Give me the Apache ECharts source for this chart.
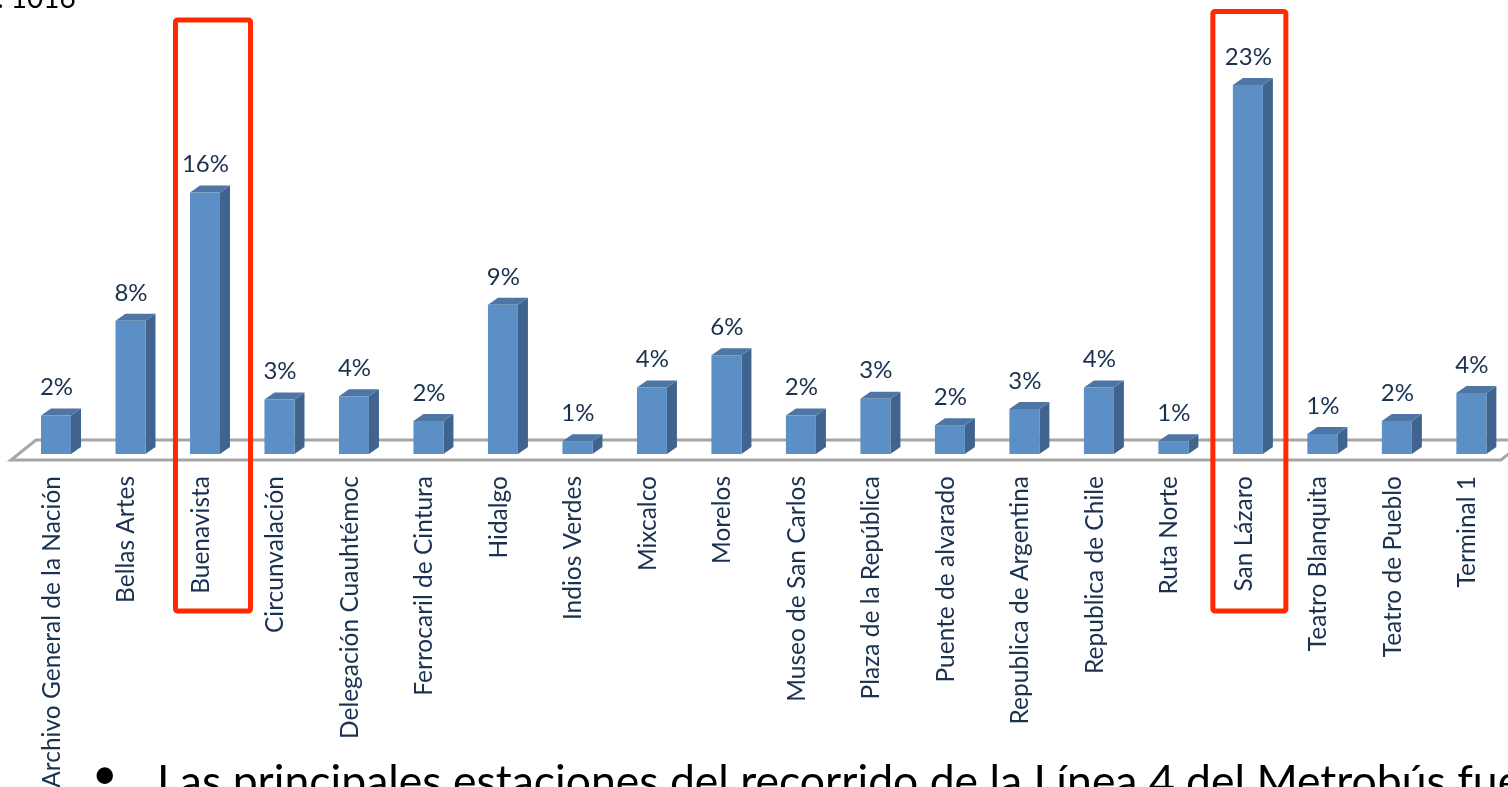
<!DOCTYPE html>
<html>
<head>
<meta charset="utf-8">
<style>
  html, body { margin: 0; padding: 0; background: #fff; overflow: hidden; }
  #chart { width: 1508px; height: 787px; }
</style>
</head>
<body>
<div id="chart"></div>
<script src="https://cdn.jsdelivr.net/npm/echarts@6/dist/echarts.min.js"></script>
<script>
const categories = [
  'Archivo General de la Nación', 'Bellas Artes', 'Buenavista', 'Circunvalación',
  'Delegación Cuauhtémoc', 'Ferrocaril de Cintura', 'Hidalgo', 'Indios Verdes',
  'Mixcalco', 'Morelos', 'Museo de San Carlos', 'Plaza de la República',
  'Puente de alvarado', 'Republica de Argentina', 'Republica de Chile', 'Ruta Norte',
  'San Lázaro', 'Teatro Blanquita', 'Teatro de Pueblo', 'Terminal 1',
]
const values = [2.4, 8.3, 16.3, 3.4, 3.6, 2.05, 9.3, 0.8, 4.15, 6.15, 2.4, 3.45, 1.8, 2.8, 4.15, 0.8, 23, 1.25, 2.05, 3.8]
const highlighted = ['Buenavista', 'San Lázaro']

const textColor = '#1b3150'
const fontFamily = 'Lato'
const barWidth = 30
const depthX = 10
const depthY = 7

const chart = echarts.init(document.getElementById('chart'))

function renderBar(params, api) {
  const x = api.coord([api.value(0), 0])[0] - barWidth / 2
  const base = api.coord([api.value(0), 0])[1]
  const top = api.coord([api.value(0), api.value(1)])[1]
  return {
    type: 'group',
    children: [
      {
        type: 'polygon',
        shape: { points: [[x + barWidth, top], [x + barWidth + depthX, top - depthY], [x + barWidth + depthX, base - depthY], [x + barWidth, base]] },
        style: { fill: '#41648f' },
      },
      {
        type: 'polygon',
        shape: { points: [[x, top], [x + depthX, top - depthY], [x + barWidth + depthX, top - depthY], [x + barWidth, top]] },
        style: { fill: '#4e76a4' },
      },
      {
        type: 'rect',
        shape: { x, y: top, width: barWidth, height: base - top },
        style: { fill: '#5b8fc5' },
      },
      {
        type: 'text',
        style: {
          x: x + barWidth / 2 + 0.5,
          y: top - 28,
          text: Math.round(api.value(1)) + '%',
          align: 'center',
          verticalAlign: 'middle',
          fill: textColor,
          font: '24px ' + fontFamily,
        },
      },
    ],
  }
}

const option = {
  animation: false,
  grid: { left: 18.75, right: -0.6, top: 53, bottom: 333, outerBoundsMode: 'none' },
  xAxis: {
    type: 'category',
    data: categories,
    axisLine: { show: false },
    axisTick: { show: false },
    axisLabel: {
      interval: 0,
      rotate: 90,
      margin: 22,
      color: textColor,
      fontFamily,
      fontSize: 24.5,
      // labels sit a little left of the bars
      verticalAlign: 'bottom',
      lineHeight: 8,
    },
  },
  yAxis: { type: 'value', min: 0, max: 25, show: false },
  series: [
    {
      type: 'custom',
      renderItem: renderBar,
      data: values.map((v, i) => [i, v]),
      clip: false,
    },
  ],
  graphic: [
    {
      type: 'polygon',
      z: 0,
      shape: { points: [[11, 460], [1501, 460], [1526, 440], [36, 440]] },
      style: { fill: 'none', stroke: '#a6a6a6', lineWidth: 3 },
    },
    {
      type: 'text',
      left: 92,
      top: 753,
      style: { text: '•', fill: '#000', font: '44px ' + fontFamily },
    },
    {
      type: 'text',
      left: 157,
      top: 760,
      style: { text: 'Las principales estaciones del recorrido de la Línea 4 del Metrobús fueron', fill: '#000', font: '44.5px ' + fontFamily },
    },
    {
      type: 'text',
      left: -3,
      top: -15,
      style: { text: '. 1016', fill: '#000', font: '28px ' + fontFamily },
    },
  ],
}
chart.setOption(option)

// red boxes round the two main stations, they do not sit quite centred on the bars
const boxes = {
  Buenavista: { top: 20, dx: 8, width: 75 },
  'San Lázaro': { top: 11.5, dx: 1.5, width: 73 },
}
chart.setOption({
  graphic: option.graphic.concat(highlighted.map(name => {
    const box = boxes[name]
    const cx = chart.convertToPixel({ xAxisIndex: 0 }, name) + box.dx
    return {
      type: 'rect',
      z: 100,
      shape: { x: cx - box.width / 2, y: box.top, width: box.width, height: 611 - box.top, r: 2 },
      style: { fill: 'none', stroke: '#ff2a00', lineWidth: 5 },
    }
  })),
})
</script>
</body>
</html>
